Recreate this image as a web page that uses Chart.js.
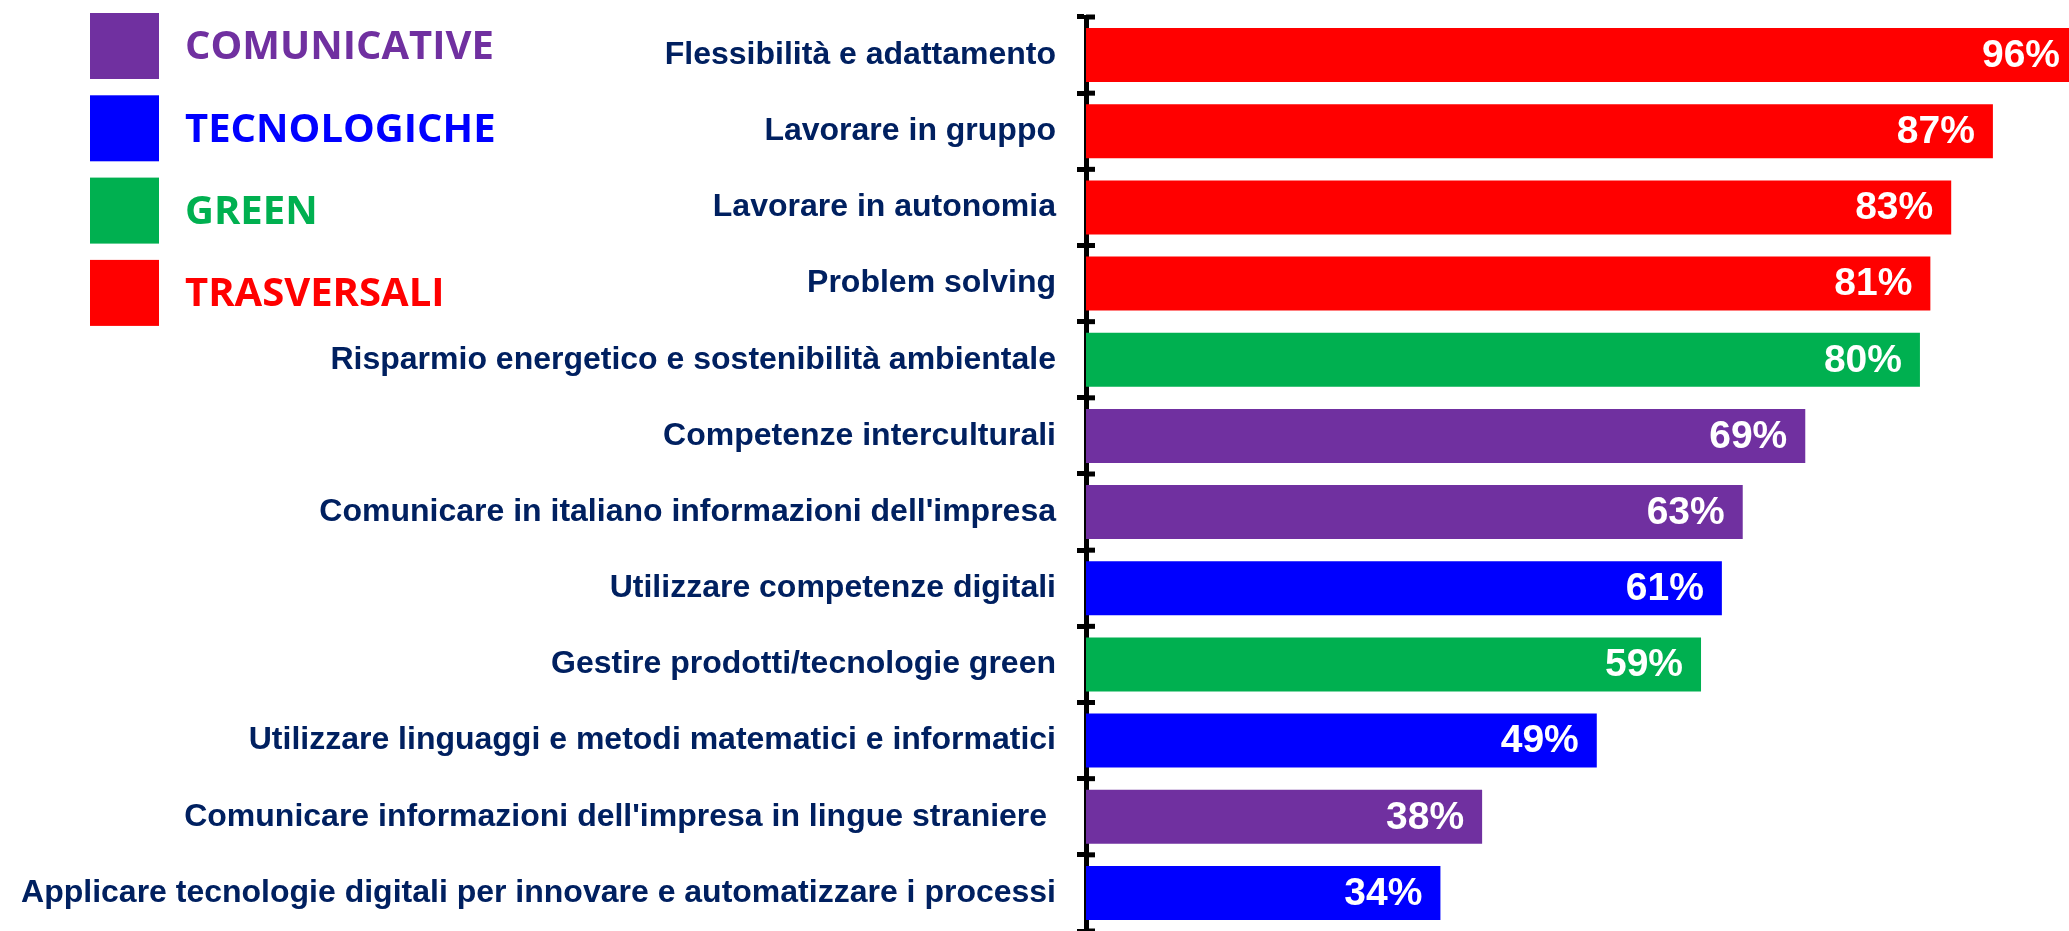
<!DOCTYPE html>
<html>
<head>
<meta charset="utf-8">
<script src="https://cdn.jsdelivr.net/npm/chart.js@4/dist/chart.umd.min.js"></script>
<style>
  body { margin: 0; background: #fff; }
  #wrap { width: 2069px; height: 931px; position: relative; }
</style>
</head>
<body>
<div id="wrap"><canvas id="skillsChart"></canvas></div>
<script>
// Data
const categories = [
  "Flessibilità e adattamento",
  "Lavorare in gruppo",
  "Lavorare in autonomia",
  "Problem solving",
  "Risparmio energetico e sostenibilità ambientale",
  "Competenze interculturali",
  "Comunicare in italiano informazioni dell'impresa",
  "Utilizzare competenze digitali",
  "Gestire prodotti/tecnologie green",
  "Utilizzare linguaggi e metodi matematici e informatici",
  "Comunicare informazioni dell'impresa in lingue straniere ",
  "Applicare tecnologie digitali per innovare e automatizzare i processi"
];
const values = [96, 87, 83, 81, 80, 69, 63, 61, 59, 49, 38, 34];
const groups = ["TRASVERSALI", "TRASVERSALI", "TRASVERSALI", "TRASVERSALI", "GREEN",
  "COMUNICATIVE", "COMUNICATIVE", "TECNOLOGICHE", "GREEN", "TECNOLOGICHE",
  "COMUNICATIVE", "TECNOLOGICHE"];
const legendNames = ["COMUNICATIVE", "TECNOLOGICHE", "GREEN", "TRASVERSALI"];
const legendColors = ["#7030A0", "#0000FF", "#00B050", "#FF0000"];

const colorOf = g => legendColors[legendNames.indexOf(g)];

// value labels inside bar ends
const valueLabels = {
  id: 'valueLabels',
  afterDatasetsDraw(chart) {
    const ctx = chart.ctx;
    const area = chart.chartArea;
    ctx.save();
    ctx.fillStyle = '#fff';
    ctx.font = 'bold 39px "Liberation Sans", Arial, sans-serif';
    ctx.textAlign = 'right';
    ctx.textBaseline = 'middle';
    chart.getDatasetMeta(0).data.forEach((bar, i) => {
      const x = Math.min(bar.x - 18, area.right - 9);
      ctx.fillText(values[i] + '%', x, bar.y + 1);
    });
    ctx.restore();
  }
};

// small ticks crossing the axis to the right
const crossTicks = {
  id: 'crossTicks',
  afterDraw(chart) {
    const ctx = chart.ctx;
    const y = chart.scales.y;
    const x0 = chart.chartArea.left;
    ctx.save();
    ctx.strokeStyle = '#000';
    ctx.lineWidth = 5;
    for (let i = 0; i <= categories.length; i++) {
      const py = y.getPixelForValue(i - 0.5);
      ctx.beginPath();
      ctx.moveTo(x0, py);
      ctx.lineTo(x0 + 9, py);
      ctx.stroke();
    }
    ctx.restore();
  }
};

// legend boxes in the top-left corner
const sideLegend = {
  id: 'sideLegend',
  afterDraw(chart) {
    const ctx = chart.ctx;
    ctx.save();
    ctx.textBaseline = 'middle';
    ctx.font = 'bold 40px "Open Sans", "Noto Sans", sans-serif';
    legendNames.forEach((name, i) => {
      const top = 13 + i * 82.3;
      ctx.fillStyle = legendColors[i];
      ctx.fillRect(90, top, 69, 66);
      ctx.fillText(name, 185, top + 35);
    });
    ctx.restore();
  }
};

const ctx = document.getElementById('skillsChart').getContext('2d');
new Chart(ctx, {
  type: 'bar',
  data: {
    labels: categories,
    datasets: [{
      data: values,
      backgroundColor: groups.map(colorOf),
      borderWidth: 0,
      barPercentage: 0.71,
      categoryPercentage: 1
    }]
  },
  options: {
    indexAxis: 'y',
    responsive: true,
    maintainAspectRatio: false,
    animation: false,
    layout: { padding: { top: 17, bottom: 0, left: 0, right: 0 } },
    plugins: {
      legend: { display: false },
      tooltip: { enabled: false }
    },
    scales: {
      x: {
        display: false,
        min: 0,
        max: 94.3
      },
      y: {
        grid: {
          drawOnChartArea: false,
          color: '#000',
          lineWidth: 5,
          tickLength: 9
        },
        border: { color: '#000', width: 5 },
        ticks: {
          color: '#002060',
          padding: 21,
          font: { family: '"Liberation Sans", Arial, sans-serif', size: 32, weight: 'bold' }
        },
        afterFit(scale) {
          scale.width = 1086;
          scale.paddingTop = 0;
          scale.paddingBottom = 0;
        }
      }
    }
  },
  plugins: [valueLabels, crossTicks, sideLegend]
});
</script>
</body>
</html>
